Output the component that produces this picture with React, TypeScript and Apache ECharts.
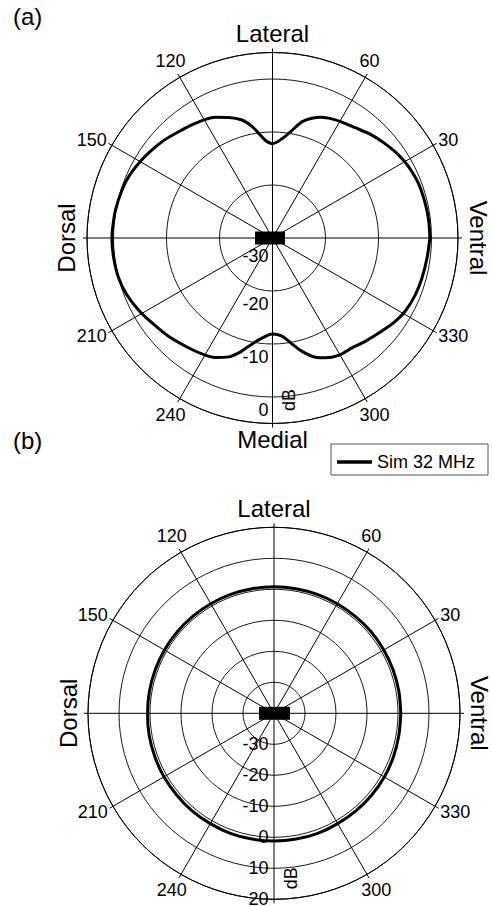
import React, { useEffect, useRef } from 'react';
import * as echarts from 'echarts';

const FONT = '"Liberation Sans", Arial, Helvetica, sans-serif';

// Panel (a): angle in degrees (0 = Ventral, 90 = Lateral, 180 = Dorsal, 270 = Medial), level in dB
const topAngles = [
  0, 6.6, 12.8, 20.5, 27.6, 33.3, 40, 46, 53.2, 59.1, 63.6, 67.8, 71.8, 75.8, 79.8, 84.6, 90,
  94.2, 97.5, 100.4, 104.5, 110, 115.3, 119.5, 125.5, 132.9, 138.4, 145.1, 150.8, 156.9, 162.3,
  169.9, 175.9, 180, 187.2, 194.6, 201.3, 208.2, 215.2, 223.4, 231.2, 238.7, 244.4, 249.8, 253.6,
  257.6, 262.3, 267.7, 270, 275.5, 280.4, 284.6, 289.8, 293.8, 299.4, 305.9, 311.9, 319.6, 325.8,
  331.1, 338.4, 345, 352.6, 360,
];
const topLevels = [
  -0.3, -0.35, -0.45, -0.6, -1.0, -1.5, -2.3, -3.0, -4.0, -4.5, -4.9, -5.4, -6.2, -7.4, -9.4, -11.2, -12.2,
  -11.5, -10.1, -8.6, -7.0, -5.8, -4.8, -4.3, -3.8, -3.1, -2.4, -1.7, -1.1, -0.5, -0.2,
  0.1, 0.2, 0.3, 0.2, 0.0, -0.5, -1.3, -2.2, -3.0, -3.8, -4.4, -5.0, -6.1, -7.4,
  -9.1, -10.6, -11.7, -11.9, -11.4, -9.7, -7.9, -6.1, -5.3, -4.6, -4.4, -3.8, -2.9, -2.0,
  -1.4, -1.0, -0.8, -0.6, -0.3,
];

// Panel (b)
const bottomAngles = [
  0, 10, 20, 30, 40, 50, 60, 70, 80, 90, 100, 110, 120, 130, 140, 150, 160, 170, 180,
  190, 200, 210, 220, 230, 240, 250, 260, 270, 280, 290, 300, 310, 320, 330, 340, 350, 360,
];
const bottomLevels = [
  0.9, 0.9, 0.9, 0.9, 0.9, 0.8, 0.8, 0.8, 0.8, 0.8, 0.8, 0.8, 0.8, 0.8, 0.8, 0.8, 0.8, 0.8, 0.8,
  0.9, 0.9, 1.0, 1.0, 1.1, 1.1, 1.2, 1.2, 1.2, 1.2, 1.2, 1.1, 1.1, 1.1, 1.1, 1.0, 0.9, 0.9,
];

const angleTickLabels = ['30', '60', '120', '150', '210', '240', '300', '330'];
const topRadiusLabels = ['-30', '-20', '-10', '0'];
const bottomRadiusLabels = ['-30', '-20', '-10', '0', '10', '20'];
const seriesName = 'Sim 32 MHz';
const directionNames = ['Ventral', 'Lateral', 'Dorsal', 'Medial'];
const panelTags = ['(a)', '(b)'];

// layout
const panels = [
  { cx: 272.5, cy: 238, R: 185.5, rMin: -30, rMax: 5, tagY: 17, rectW: 30, rectOff: -2.5, labelMargin: -4, dbDy: 162, dirs: [0, 1, 2, 3] },
  { cx: 274, cy: 713.3, R: 186, rMin: -40, rMax: 20, tagY: 441, rectW: 31, rectOff: 0.5, labelMargin: -5.5, dbDy: 165, dirs: [0, 1, 2] },
];
const dirOffsets = [
  { dx: 205.5, dy: 0, rot: -90 },
  { dx: 0, dy: -205, rot: 0 },
  { dx: -206, dy: 0, rot: 90 },
  { dx: 0, dy: 201, rot: 0 },
];

// angle axis starts at the bottom (270 deg) so that the radius axis points down
const toAxisAngle = (theta: number) => (theta + 90) % 360;
const fromAxisAngle = (v: number) => Math.round(v + 270) % 360;

export default function App() {
  const ref = useRef<HTMLDivElement>(null);
  useEffect(() => {
    if (!ref.current) return;
    const chart = echarts.init(ref.current, undefined, { renderer: 'svg' });

    const lineStyleGrid = { color: '#000', width: 0.9 };

    const angleAxis = panels.map((p, i) => ({
      polarIndex: i,
      type: 'value',
      min: 0,
      max: 360,
      interval: 30,
      startAngle: 270,
      clockwise: false,
      axisLine: { show: true, lineStyle: { color: '#000', width: 1 } },
      axisTick: { show: true, inside: false, length: 4, lineStyle: { color: '#000', width: 1 } },
      splitLine: { show: true, lineStyle: { color: '#000', width: 1 } },
      axisLabel: {
        show: true,
        margin: 29.5,
        padding: [-18.5, -20.5, -18.5, -20.5],
        fontSize: 18,
        fontFamily: FONT,
        color: '#000',
        formatter: (v: number) => {
          const t = String(fromAxisAngle(v));
          return angleTickLabels.includes(t) ? t : '';
        },
      },
    }));

    const radiusAxis = panels.map((p, i) => ({
      polarIndex: i,
      type: 'value',
      min: p.rMin,
      max: p.rMax,
      interval: 10,
      axisLine: { show: false },
      axisTick: { show: false },
      splitLine: { show: true, lineStyle: lineStyleGrid },
      axisLabel: i === 0
        ? {
            show: true,
            margin: p.labelMargin,
            align: 'right',
            verticalAlign: 'top',
            showMaxLabel: false,
            formatter: (v: number) => {
              const t = String(v);
              if (!topRadiusLabels.includes(t)) return '';
              return t === '-30' ? `{f|${t}}` : `{n|${t}}`;
            },
            rich: {
              n: { lineHeight: 25, fontSize: 18, fontFamily: FONT, color: '#000' },
              f: { lineHeight: 35, fontSize: 18, fontFamily: FONT, color: '#000' },
            },
          }
        : {
            show: true,
            margin: p.labelMargin,
            align: 'right',
            verticalAlign: 'middle',
            fontSize: 18,
            fontFamily: FONT,
            color: '#000',
            formatter: (v: number) => (bottomRadiusLabels.includes(String(v)) ? String(v) : ''),
          },
    }));

    const topData = topAngles.map((a, k) => [topLevels[k], toAxisAngle(a)]);
    const bottomData = bottomAngles.map((a, k) => [bottomLevels[k], toAxisAngle(a)]);

    const graphics: any[] = [];
    panels.forEach((p, i) => {
      graphics.push({
        type: 'text',
        left: 13,
        top: p.tagY - 13,
        style: { text: panelTags[i], fontSize: 24, fontFamily: FONT, fill: '#000' },
      });
      p.dirs.forEach((k) => {
        const d = dirOffsets[k];
        graphics.push({
          type: 'text',
          x: p.cx + d.dx,
          y: p.cy + d.dy,
          rotation: (d.rot * Math.PI) / 180,
          style: {
            text: directionNames[k],
            fontSize: 24,
            fontFamily: FONT,
            fill: '#000',
            align: 'center',
            verticalAlign: 'middle',
          },
        });
      });
      graphics.push({
        type: 'text',
        x: p.cx + 16.5,
        y: p.cy + p.dbDy,
        rotation: Math.PI / 2,
        style: {
          text: 'dB',
          fontSize: 18,
          fontFamily: FONT,
          fill: '#000',
          align: 'center',
          verticalAlign: 'middle',
        },
      });
    });

    chart.setOption({
      animation: false,
      backgroundColor: '#fff',
      color: ['#000'],
      polar: panels.map((p) => ({ center: [p.cx, p.cy], radius: [0, p.R] })),
      angleAxis,
      radiusAxis,
      legend: {
        data: [seriesName],
        left: 331,
        top: 444,
        icon: 'rect',
        itemWidth: 35,
        itemHeight: 3.5,
        borderColor: '#555',
        borderWidth: 1,
        borderRadius: 0,
        padding: [9, 13, 4, 6],
        textStyle: { fontSize: 18, fontFamily: FONT, color: '#000' },
      },
      graphic: graphics,
      series: [
        {
          type: 'line',
          name: seriesName,
          coordinateSystem: 'polar',
          polarIndex: 0,
          data: topData,
          symbol: 'none',
          showSymbol: false,
          smooth: 0.3,
          lineStyle: { color: '#000', width: 3 },
          itemStyle: { color: '#000' },
          z: 4,
        },
        {
          type: 'line',
          name: seriesName,
          coordinateSystem: 'polar',
          polarIndex: 1,
          data: bottomData,
          symbol: 'none',
          showSymbol: false,
          smooth: 0.3,
          lineStyle: { color: '#000', width: 3 },
          itemStyle: { color: '#000' },
          z: 4,
        },
        ...panels.map((p, i) => ({
          type: 'scatter',
          name: 'transducer',
          coordinateSystem: 'polar',
          polarIndex: i,
          data: [[p.rMin, 0]],
          symbol: 'rect',
          symbolSize: [p.rectW, 13],
          symbolOffset: [p.rectOff, 0],
          itemStyle: { color: '#000', opacity: 1 },
          silent: true,
          z: 5,
        })),
      ],
    });

    return () => chart.dispose();
  }, []);

  return (
    <div
      ref={ref}
      style={{ position: 'fixed', left: 0, top: 0, width: 492, height: 906, background: '#fff' }}
    />
  );
}
